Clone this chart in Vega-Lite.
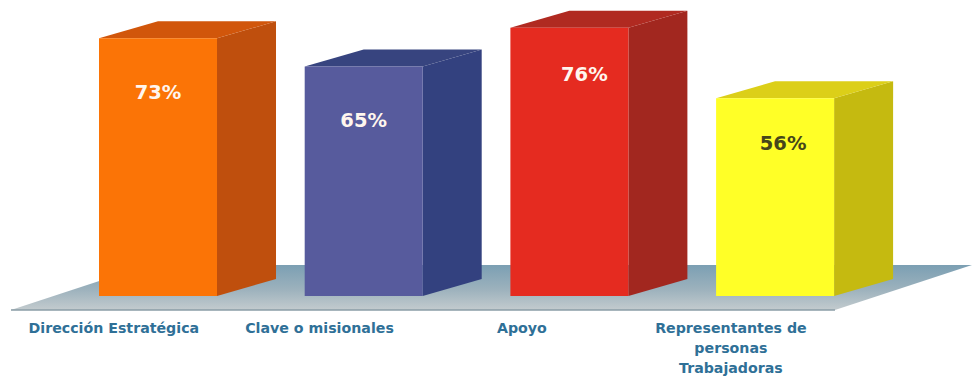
{
  "$schema": "https://vega.github.io/schema/vega-lite/v6.json",
  "autosize": {"type": "fit", "contains": "padding"},
  "width": 972,
  "height": 379,
  "padding": 0,
  "background": "#ffffff",
  "config": {"view": {"stroke": null}},
  "datasets": {
    "barras": [
      {"categoria": "Dirección Estratégica", "rotulo": "Dirección Estratégica", "orden": 0, "valor": 73},
      {"categoria": "Clave o misionales", "rotulo": "Clave o misionales", "orden": 1, "valor": 65},
      {"categoria": "Apoyo", "rotulo": "Apoyo", "orden": 2, "valor": 76},
      {"categoria": "Representantes", "rotulo": "Representantes de\npersonas\nTrabajadoras", "orden": 3, "valor": 56}
    ],
    "suelo": [
      {"nivel": 8.8, "izquierda": 0.238, "derecha": 4.244},
      {"nivel": -3.97, "izquierda": -0.428, "derecha": 3.578}
    ]
  },
  "layer": [
    {
      "data": {"name": "suelo"},
      "mark": {
        "type": "area",
        "orient": "horizontal",
        "color": {
          "gradient": "linear", "x1": 0, "y1": 0, "x2": 0, "y2": 1,
          "stops": [
            {"offset": 0, "color": "#7b9fb3"},
            {"offset": 0.55, "color": "#9db2bd"},
            {"offset": 1, "color": "#c3cbce"}
          ]
        }
      },
      "encoding": {
        "y": {"field": "nivel", "type": "quantitative", "scale": {"domain": [-23.51, 83.85], "nice": false, "zero": false}, "axis": null},
        "x": {"field": "izquierda", "type": "quantitative", "scale": {"domain": [-0.4813, 4.2441], "nice": false, "zero": false}, "axis": null},
        "x2": {"field": "derecha"}
      }
    },
    {
      "data": {"name": "suelo"},
      "transform": [{"filter": "datum.nivel < 0"}],
      "mark": {"type": "rule", "color": "#8a9ca6", "strokeWidth": 1.5},
      "encoding": {
        "y": {"field": "nivel", "type": "quantitative"},
        "x": {"field": "izquierda", "type": "quantitative"},
        "x2": {"field": "derecha"}
      }
    },
    {
      "data": {"name": "barras"},
      "transform": [
        {"calculate": "[0, 1]", "as": "t"},
        {"flatten": ["t"]},
        {"calculate": "datum.orden + 0.5737 + 0.2868 * datum.t", "as": "xLado"},
        {"calculate": "4.82 * datum.t", "as": "pie"},
        {"calculate": "datum.valor + 4.82 * datum.t", "as": "cima"}
      ],
      "mark": {"type": "area", "orient": "vertical"},
      "encoding": {
        "x": {"field": "xLado", "type": "quantitative"},
        "y": {"field": "pie", "type": "quantitative", "stack": null},
        "y2": {"field": "cima"},
        "color": {
          "field": "categoria", "type": "nominal", "legend": null,
          "scale": {
            "domain": ["Dirección Estratégica", "Clave o misionales", "Apoyo", "Representantes"],
            "range": ["#bf4f0d", "#33417f", "#a2271f", "#c5ba10"]
          }
        }
      }
    },
    {
      "data": {"name": "barras"},
      "transform": [
        {"calculate": "[0, 1]", "as": "t"},
        {"flatten": ["t"]},
        {"calculate": "datum.orden + 0.2868 * datum.t", "as": "xIzq"},
        {"calculate": "datum.orden + 0.5737 + 0.2868 * datum.t", "as": "xDer"},
        {"calculate": "datum.valor + 4.82 * datum.t", "as": "nivel"}
      ],
      "mark": {"type": "area", "orient": "horizontal"},
      "encoding": {
        "y": {"field": "nivel", "type": "quantitative"},
        "x": {"field": "xIzq", "type": "quantitative", "stack": null},
        "x2": {"field": "xDer"},
        "color": {
          "field": "categoria", "type": "nominal", "legend": null,
          "scale": {
            "domain": ["Dirección Estratégica", "Clave o misionales", "Apoyo", "Representantes"],
            "range": ["#d1560b", "#37447f", "#b02a21", "#dccf18"]
          }
        }
      }
    },
    {
      "data": {"name": "barras"},
      "transform": [
        {"calculate": "datum.orden + 0.5737", "as": "fin"}
      ],
      "mark": {"type": "rect"},
      "encoding": {
        "x": {"field": "orden", "type": "quantitative"},
        "x2": {"field": "fin"},
        "y": {"field": "valor", "type": "quantitative"},
        "y2": {"datum": 0},
        "color": {
          "field": "categoria", "type": "nominal", "legend": null,
          "scale": {
            "domain": ["Dirección Estratégica", "Clave o misionales", "Apoyo", "Representantes"],
            "range": ["#fb7406", "#575b9d", "#e52b20", "#ffff27"]
          }
        }
      }
    },
    {
      "data": {"name": "barras"},
      "transform": [
        {"calculate": "datum.orden + 0.2868 + (datum.orden == 2 ? 0.0729 : datum.orden == 3 ? 0.0389 : 0)", "as": "xTexto"},
        {"calculate": "datum.valor + (datum.orden < 2 ? -15.4 : datum.orden == 2 ? -13.4 : -12.8)", "as": "yTexto"},
        {"calculate": "datum.valor + '%'", "as": "etiqueta"}
      ],
      "mark": {"type": "text", "font": "DejaVu Sans", "fontWeight": "bold", "fontSize": 19.5, "baseline": "middle", "align": "center"},
      "encoding": {
        "x": {"field": "xTexto", "type": "quantitative"},
        "y": {"field": "yTexto", "type": "quantitative"},
        "text": {"field": "etiqueta", "type": "nominal"},
        "color": {
          "condition": {"test": "datum.orden == 3", "value": "#46461a"},
          "value": "#fff6ee"
        }
      }
    },
    {
      "data": {"name": "barras"},
      "transform": [
        {"calculate": "datum.orden + (datum.orden == 2 ? 0.056 : 0.072)", "as": "xRotulo"}
      ],
      "mark": {"type": "text", "font": "DejaVu Sans", "fontWeight": "bold", "fontSize": 14.2, "lineBreak": "\n", "lineHeight": 20, "baseline": "top", "align": "center", "color": "#2f7097"},
      "encoding": {
        "x": {"field": "xRotulo", "type": "quantitative"},
        "y": {"datum": -7.4},
        "text": {"field": "rotulo", "type": "nominal"}
      }
    }
  ],
  "resolve": {"scale": {"color": "independent"}}
}
